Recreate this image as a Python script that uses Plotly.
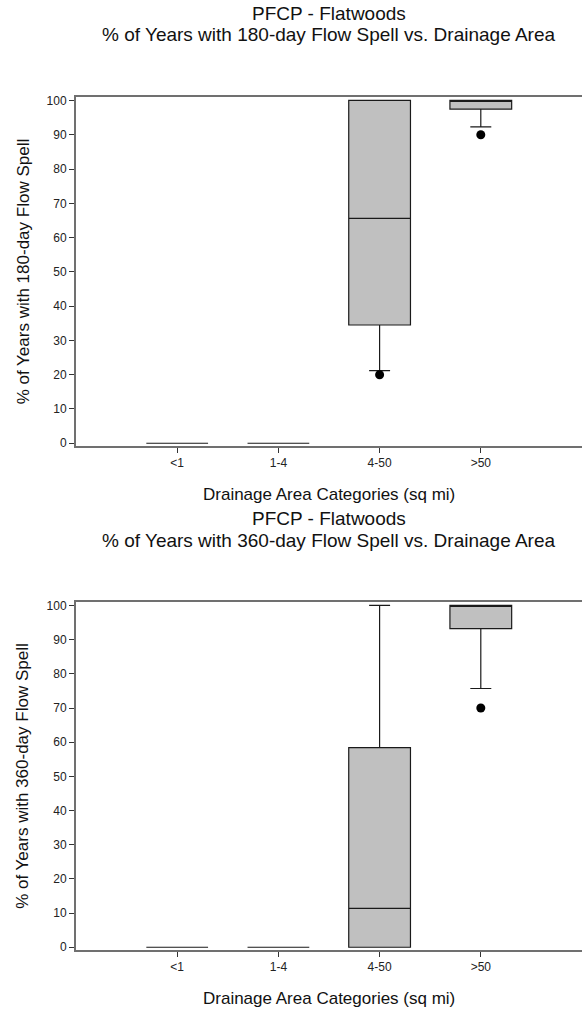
import plotly.graph_objects as go

W, H = 582, 1009

categories = ["<1", "1-4", "4-50", ">50"]

# Top panel: 180-day flow spell
q1_180 = [0, 0, 34.5, 97.5]
med_180 = [0, 0, 65.6, 100]
q3_180 = [0, 0, 100, 100]
lo_180 = [0, 0, 21.2, 92.3]
hi_180 = [0, 0, 100, 100]
out_x_180 = ["4-50", ">50"]
out_y_180 = [20, 90]

# Bottom panel: 360-day flow spell
q1_360 = [0, 0, 0, 93.2]
med_360 = [0, 0, 11.4, 100]
q3_360 = [0, 0, 58.4, 100]
lo_360 = [0, 0, 0, 75.7]
hi_360 = [0, 0, 100, 100]
out_x_360 = [">50"]
out_y_360 = [70]

titles = [
    ("PFCP - Flatwoods", "% of Years with 180-day Flow Spell vs. Drainage Area"),
    ("PFCP - Flatwoods", "% of Years with 360-day Flow Spell vs. Drainage Area"),
]
ytitles = ["% of Years with 180-day Flow Spell", "% of Years with 360-day Flow Spell"]
xtitle = "Drainage Area Categories (sq mi)"
yticks = list(range(0, 101, 10))

FONT = "Liberation Sans, Arial, sans-serif"

def py(px):
    return 1 - px / H

fig = go.Figure()

panels = [
    (q1_180, med_180, q3_180, lo_180, hi_180, out_x_180, out_y_180, "x", "y"),
    (q1_360, med_360, q3_360, lo_360, hi_360, out_x_360, out_y_360, "x2", "y2"),
]
for q1, med, q3, lo, hi, ox, oy, xa, ya in panels:
    fig.add_trace(go.Box(
        x=categories, q1=q1, median=med, q3=q3, lowerfence=lo, upperfence=hi,
        fillcolor="#c0c0c0", line=dict(color="#1a1a1a", width=1.2),
        whiskerwidth=0.34, width=0.61, boxpoints=False,
        xaxis=xa, yaxis=ya, showlegend=False, hoverinfo="skip"))
    fig.add_trace(go.Scatter(
        x=ox, y=oy, mode="markers",
        marker=dict(color="black", size=9),
        xaxis=xa, yaxis=ya, showlegend=False, hoverinfo="skip"))

# pixel geometry of panels (top, bottom)
panel_px = [(96.7, 446.0), (601.7, 950.0)]

axis_common_x = dict(
    type="category", categoryorder="array", categoryarray=categories,
    range=[-1, 4], showline=True, linecolor="#707070", linewidth=2,
    mirror=True, ticks="outside", ticklen=5, tickwidth=1, tickcolor="#333",
    tickfont=dict(family=FONT, size=12, color="#222"), showgrid=False,
    zeroline=False, fixedrange=True)
axis_common_y = dict(
    range=[-0.8, 101.1], tickvals=yticks, showline=True, linecolor="#707070",
    linewidth=2, mirror=True, ticks="outside", ticklen=5, tickwidth=1,
    tickcolor="#333", tickfont=dict(family=FONT, size=12, color="#222"),
    showgrid=False, zeroline=False, fixedrange=True)

fig.update_layout(
    xaxis=dict(axis_common_x, domain=[0, 1], anchor="y"),
    yaxis=dict(axis_common_y, domain=[py(panel_px[0][1]), py(panel_px[0][0])], anchor="x"),
    xaxis2=dict(axis_common_x, domain=[0, 1], anchor="y2"),
    yaxis2=dict(axis_common_y, domain=[py(panel_px[1][1]), py(panel_px[1][0])], anchor="x2"),
)

annotations = []
title_px = [(14, 34), (518, 540)]
xtitle_px = [494, 998]
for i in range(2):
    l1, l2 = titles[i]
    annotations.append(dict(text=l1, x=0.5, y=py(title_px[i][0]), xref="paper", yref="paper",
                            xanchor="center", yanchor="middle", showarrow=False,
                            font=dict(family=FONT, size=19, color="#111")))
    annotations.append(dict(text=l2, x=0.5, y=py(title_px[i][1]), xref="paper", yref="paper",
                            xanchor="center", yanchor="middle", showarrow=False,
                            font=dict(family=FONT, size=19, color="#111")))
    annotations.append(dict(text=xtitle, x=0.5, y=py(xtitle_px[i]), xref="paper", yref="paper",
                            xanchor="center", yanchor="middle", showarrow=False,
                            font=dict(family=FONT, size=17, color="#111")))
    cy = (panel_px[i][0] + panel_px[i][1]) / 2
    annotations.append(dict(text=ytitles[i], x=-53 / (W - 76), y=py(cy), xref="paper", yref="paper",
                            xanchor="center", yanchor="middle", textangle=-90, showarrow=False,
                            font=dict(family=FONT, size=17, color="#111")))

fig.update_layout(
    annotations=annotations,
    width=W, height=H,
    margin=dict(l=76, r=0, t=0, b=0, autoexpand=False),
    paper_bgcolor="white", plot_bgcolor="white",
    showlegend=False,
)

fig.write_html("out.html", config={"displayModeBar": False})
